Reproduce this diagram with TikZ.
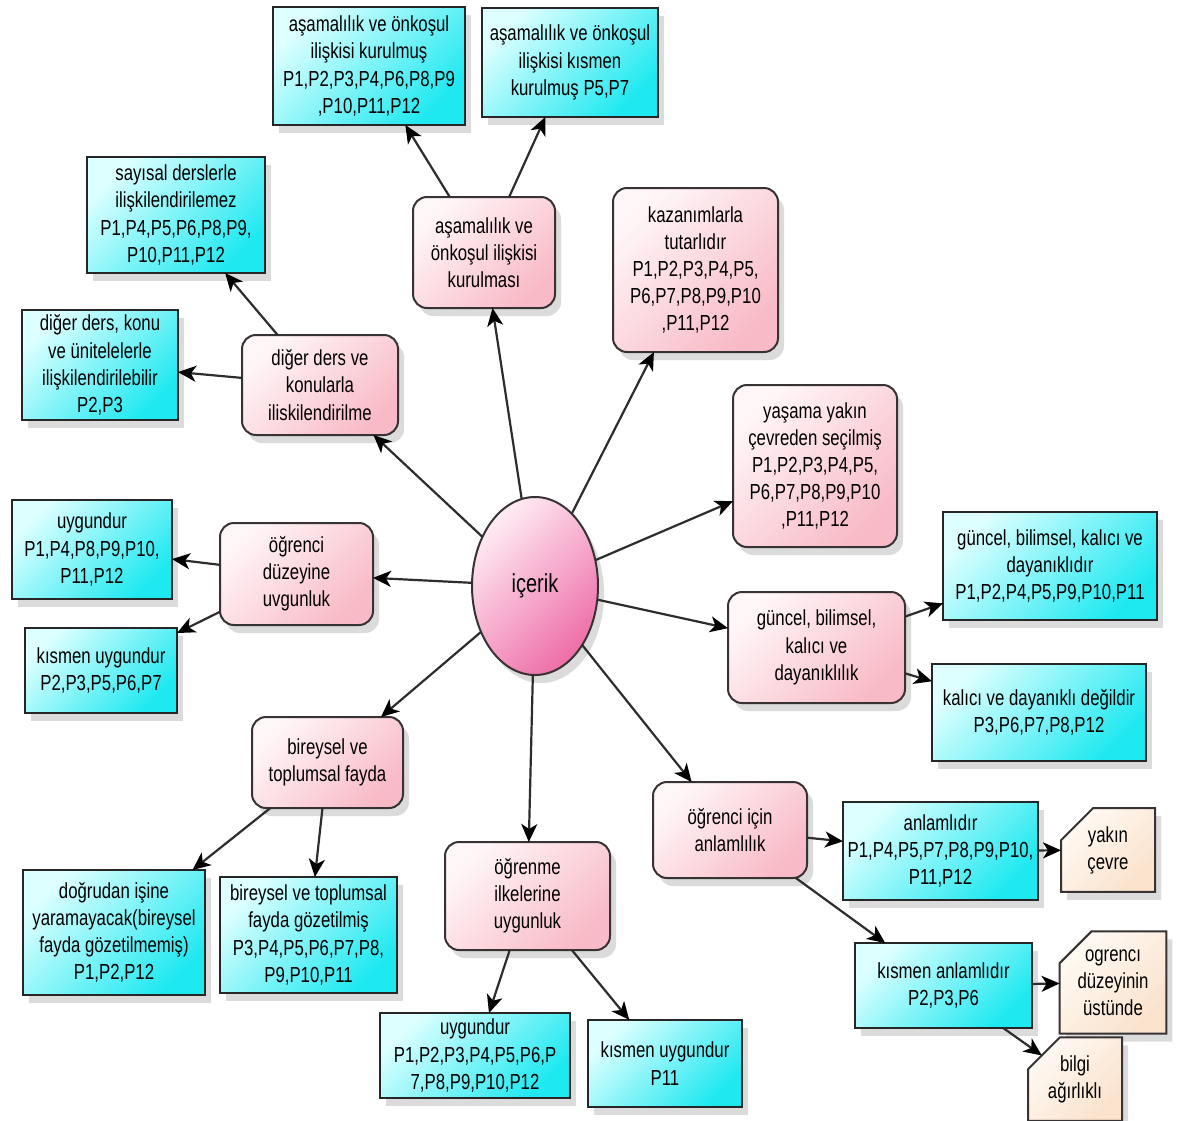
\documentclass[tikz,border=0pt]{standalone}
\usepackage{fontspec}
\setmainfont{Liberation Sans}[FakeStretch=0.77]
\usetikzlibrary{arrows.meta,shapes.misc,shapes.geometric,shadows}
\definecolor{pinkA}{RGB}{255,246,248}
\definecolor{pinkB}{RGB}{248,186,198}
\definecolor{cyanA}{RGB}{222,255,255}
\definecolor{cyanB}{RGB}{30,232,240}
\definecolor{beigeA}{RGB}{255,250,244}
\definecolor{beigeB}{RGB}{250,226,204}
\definecolor{ellA}{RGB}{255,236,244}
\definecolor{ellB}{RGB}{238,110,168}
\definecolor{edgec}{RGB}{55,50,52}
\definecolor{connc}{RGB}{45,45,45}
\begin{document}
\begin{tikzpicture}[x=0.5pt,y=-0.5pt,
  sz/.style 2 args={minimum width=#1*0.5pt,minimum height=#2*0.5pt},
  base/.style={align=center,inner sep=1pt,outer sep=0pt,
    font=\fontsize{10.9}{13.6}\selectfont,
    drop shadow={shadow xshift=3pt,shadow yshift=-4pt,opacity=0.14,fill=black}},
  pinkbox/.style={base,rectangle,rounded corners=7pt,draw=edgec,line width=1pt,
    top color=pinkA,bottom color=pinkB,shading angle=45},
  cyanbox/.style={base,rectangle,draw=black!85,line width=1.1pt,
    top color=cyanA,bottom color=cyanB,shading angle=45},
  beigebox/.style={base,chamfered rectangle,chamfered rectangle corners=north west,
    chamfered rectangle xsep=8pt,chamfered rectangle ysep=8pt,
    draw=edgec,line width=1pt,top color=beigeA,bottom color=beigeB,shading angle=45},
  ell/.style={base,ellipse,draw=edgec,line width=1pt,font=\fontsize{13}{15}\selectfont,
    top color=ellA,bottom color=ellB,shading angle=45},
  conn/.style={draw=connc,line width=1.1pt,-{Stealth[length=9pt,width=8pt,inset=2.5pt,color=black]}}
]
\fill[white] (0,0) rectangle (1202,1120);
\useasboundingbox (0,0) rectangle (1202,1120);

% centre
\node[ell,sz={126}{178}] (c) at (535,586) {içerik};

% pink
\node[pinkbox,sz={142}{111}] (pA) at (484,252.5) {aşamalılık ve\\önkoşul ilişkisi\\kurulması};
\node[pinkbox,sz={165}{164}] (pK) at (695.5,270) {kazanımlarla\\tutarlıdır\\P1,P2,P3,P4,P5,\\P6,P7,P8,P9,P10\\,P11,P12};
\node[pinkbox,sz={164}{162}] (pY) at (815,466) {yaşama yakın\\çevreden seçilmiş\\P1,P2,P3,P4,P5,\\P6,P7,P8,P9,P10\\,P11,P12};
\node[pinkbox,sz={177}{111}] (pG) at (816.5,647.5) {güncel, bilimsel,\\kalıcı ve\\dayanıklılık};
\node[pinkbox,sz={154}{96}] (pO) at (730,830) {öğrenci için\\anlamlılık};
\node[pinkbox,sz={165}{108}] (pL) at (527.5,896) {öğrenme\\ilkelerine\\uygunluk};
\node[pinkbox,sz={151}{91}] (pB) at (327.5,762.5) {bireysel ve\\toplumsal fayda};
\node[pinkbox,sz={153}{102}] (pD) at (296.5,574) {öğrenci\\düzeyine\\uvgunluk};
\node[pinkbox,sz={156}{100}] (pR) at (320,385) {diğer ders ve\\konularla\\iliskilendirilme};

% cyan
\node[cyanbox,sz={192}{118}] (cA1) at (369,66) {aşamalılık ve önkoşul\\ilişkisi kurulmuş\\P1,P2,P3,P4,P6,P8,P9\\,P10,P11,P12};
\node[cyanbox,sz={176}{109}] (cA2) at (570,62.5) {aşamalılık ve önkoşul\\ilişkisi kısmen\\kurulmuş P5,P7};
\node[cyanbox,sz={178}{116}] (cS) at (176,215) {sayısal derslerle\\ilişkilendirilemez\\P1,P4,P5,P6,P8,P9,\\P10,P11,P12};
\node[cyanbox,sz={156}{110}] (cR) at (100,365) {diğer ders, konu\\ve ünitelelerle\\ilişkilendirilebilir\\P2,P3};
\node[cyanbox,sz={160}{99}] (cU) at (92,549.5) {uygundur\\P1,P4,P8,P9,P10,\\P11,P12};
\node[cyanbox,sz={152}{85}] (cKU) at (101,670.5) {kısmen uygundur\\P2,P3,P5,P6,P7};
\node[cyanbox,sz={182}{125}] (cDo) at (114,932.5) {doğrudan işine\\yaramayacak(bireysel\\fayda gözetilmemiş)\\P1,P2,P12};
\node[cyanbox,sz={177}{116}] (cBt) at (308.5,935) {bireysel ve toplumsal\\fayda gözetilmiş\\P3,P4,P5,P6,P7,P8,\\P9,P10,P11};
\node[cyanbox,sz={190}{85}] (cLU) at (475,1055.5) {uygundur\\P1,P2,P3,P4,P5,P6,P\\7,P8,P9,P10,P12};
\node[cyanbox,sz={154}{87}] (cLK) at (665,1063.5) {kısmen uygundur\\P11};
\node[cyanbox,sz={195}{98}] (cAn) at (940.5,851) {anlamlıdır\\P1,P4,P5,P7,P8,P9,P10,\\P11,P12};
\node[cyanbox,sz={177}{85}] (cKa) at (943.5,985.5) {kısmen anlamlıdır\\P2,P3,P6};
\node[cyanbox,sz={214}{108}] (cGd) at (1050,566) {güncel, bilimsel, kalıcı ve\\dayanıklıdır\\P1,P2,P4,P5,P9,P10,P11};
\node[cyanbox,sz={214}{97}] (cKd) at (1039,712.5) {kalıcı ve dayanıklı değildir\\P3,P6,P7,P8,P12};

% beige
\node[beigebox,sz={94}{76}] (bY) at (1108,850) {yakın\\çevre};
\node[beigebox,sz={96}{89}] (bO) at (1113,982.5) {ogrencı\\düzeyinin\\üstünde};
\node[beigebox,sz={94}{74}] (bB) at (1075,1079) {bilgi\\ağırlıklı};

% connectors from centre
\draw[conn] (c) -- (pA);
\draw[conn] (c) -- (pK);
\draw[conn] (c) -- (pY);
\draw[conn] (c) -- (pG);
\draw[conn] (c) -- (pO);
\draw[conn] (c) -- (pL);
\draw[conn] (c) -- (pB);
\draw[conn] (c) -- (pD);
\draw[conn] (c) -- (pR);

% second level
\draw[conn] (pA) -- (cA1);
\draw[conn] (pA) -- (cA2);
\draw[conn] (pR) -- (cS);
\draw[conn] (pR) -- (cR);
\draw[conn] (pD) -- (cU);
\draw[conn] (pD) -- (cKU);
\draw[conn] (pB) -- (cDo);
\draw[conn] (pB) -- (cBt);
\draw[conn] (pL) -- (cLU);
\draw[conn] (pL) -- (cLK);
\draw[conn] (pO) -- (cAn);
\draw[conn] (pO) -- (cKa);
\draw[conn] (pG) -- (cGd);
\draw[conn] (pG) -- (cKd);

% third level
\draw[conn] (cAn) -- (bY);
\draw[conn] (cKa) -- (bO);
\draw[conn] (cKa) -- (bB);
\end{tikzpicture}
\end{document}
